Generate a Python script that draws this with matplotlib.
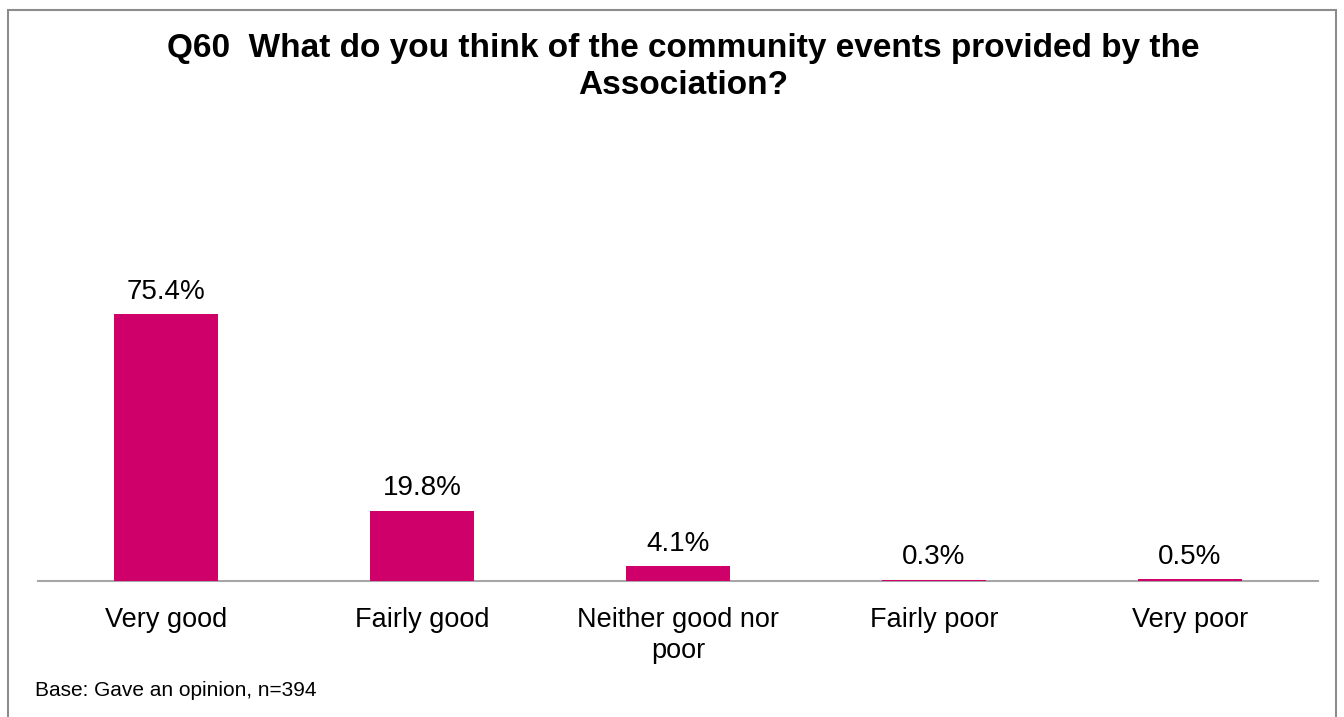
import matplotlib.pyplot as plt
from matplotlib.patches import Rectangle

plt.rcParams['font.family'] = ['Liberation Sans', 'DejaVu Sans']

# survey answers and their shares (%)
categories = ['Very good', 'Fairly good', 'Neither good nor\npoor', 'Fairly poor', 'Very poor']
shares = [75.4, 19.8, 4.1, 0.3, 0.5]
labels = ['75.4%', '19.8%', '4.1%', '0.3%', '0.5%']

title = 'Q60  What do you think of the community events provided by the\nAssociation?'
base_note = 'Base: Gave an opinion, n=394'

W, H = 1344, 717
fig = plt.figure(figsize=(W / 100, H / 100), dpi=100)

# outer frame around the chart
fig.patches.append(Rectangle((8 / W, -0.05), (1336 - 8) / W, 1 - 9.5 / H + 0.05,
                             transform=fig.transFigure, fill=False,
                             edgecolor='#8c8c8c', linewidth=1.5))

ax = fig.add_axes([38 / W, 1 - 581 / H, (1318 - 38) / W, (581 - 298) / H])
x = range(len(categories))
# bars above the baseline spine so the tiny ones still show a pink sliver
bars = ax.bar(x, shares, width=0.405, color='#D0006B', alpha=0.999, zorder=3)
ax.set_xlim(-0.5, len(categories) - 0.5)
ax.set_ylim(0, 80)

for rect, txt in zip(bars, labels):
    ax.annotate(txt, (rect.get_x() + rect.get_width() / 2, rect.get_height()),
                xytext=(0, 7), textcoords='offset points',
                ha='center', va='bottom', fontsize=20)

ax.set_xticks(list(x))
ax.set_xticklabels(categories, fontsize=19.5, linespacing=1.23)
ax.tick_params(axis='x', length=0, pad=19)
ax.set_yticks([])
for side in ['top', 'right', 'left']:
    ax.spines[side].set_visible(False)
ax.spines['bottom'].set_color('#a6a6a6')
ax.spines['bottom'].set_linewidth(1.5)

fig.text(683 / W, 1 - 67 / H, title, ha='center', va='center',
         fontsize=24, fontweight='bold', linespacing=1.25)
fig.text(35 / W, 1 - 690 / H, base_note, ha='left', va='center', fontsize=15)

fig.savefig('out.png', dpi=100, facecolor='white')
